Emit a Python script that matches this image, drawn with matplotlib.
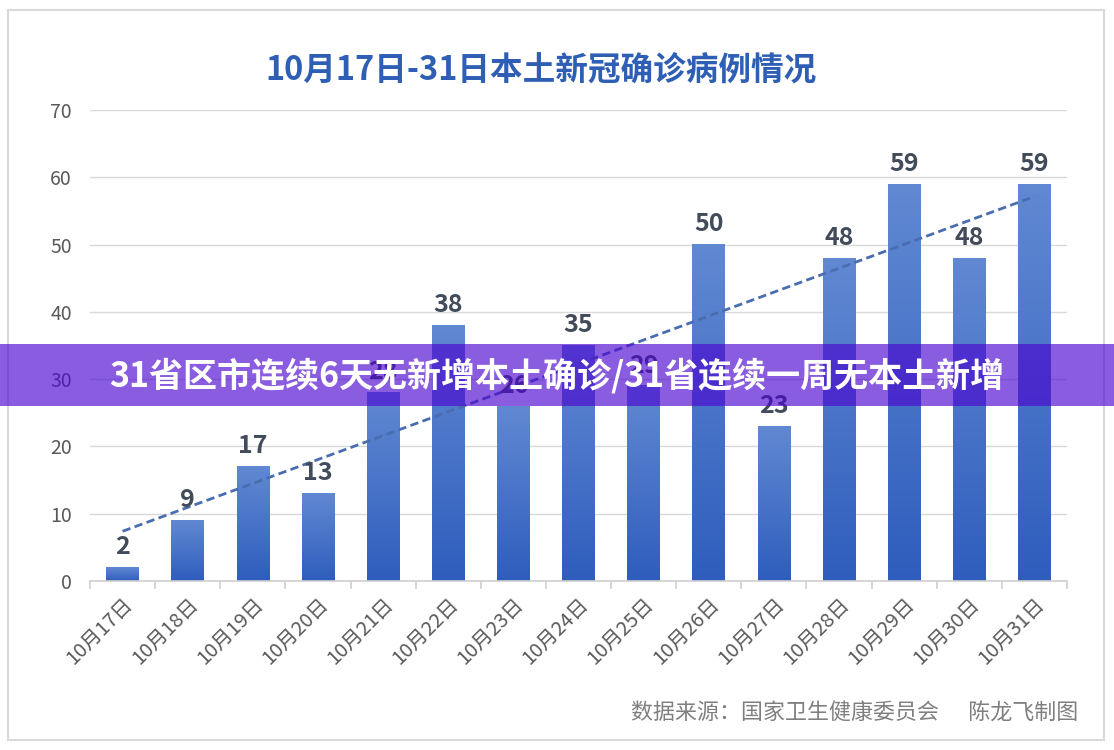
import numpy as np
import matplotlib
matplotlib.use("Agg")
import matplotlib.pyplot as plt
from matplotlib.colors import LinearSegmentedColormap
from matplotlib.patches import Rectangle

plt.rcParams['font.family'] = ['Noto Sans CJK SC', 'DejaVu Sans']

# 数据
riqi = ["10月17日", "10月18日", "10月19日", "10月20日", "10月21日", "10月22日",
        "10月23日", "10月24日", "10月25日", "10月26日", "10月27日", "10月28日",
        "10月29日", "10月30日", "10月31日"]
bingli = [2, 9, 17, 13, 28, 38, 26, 35, 29, 50, 23, 48, 59, 48, 59]

baslik = "10月17日-31日本土新冠确诊病例情况"
bant_yazi = "31省区市连续6天无新增本土确诊/31省连续一周无本土新增"
kaynak = "数据来源：国家卫生健康委员会      陈龙飞制图"

W, H = 1114, 750
fig = plt.figure(figsize=(W / 100, H / 100), dpi=100)
fig.patch.set_facecolor("white")

# 外框
fig.add_artist(Rectangle((8 / W, 1 - 740 / H), 1096 / W, 730 / H,
                         transform=fig.transFigure, facecolor="white",
                         edgecolor="#d9d9d9", lw=1.5, zorder=-1))

ax = fig.add_axes([90 / W, 1 - 581 / H, 977 / W, 471 / H])
ax.set_facecolor("none")

x = np.arange(len(bingli))
bars = ax.bar(x, bingli, width=0.5, color="none", zorder=2)

cmap = LinearSegmentedColormap.from_list("mavi", ["#2f5dbd", "#6189d2"])
grad = np.linspace(1, 0, 256).reshape(-1, 1)
for b in bars:
    ax.imshow(grad, extent=[b.get_x(), b.get_x() + b.get_width(), 0, b.get_height()],
              cmap=cmap, vmin=0, vmax=1, aspect="auto", zorder=2)

for xi, v in zip(x, bingli):
    ax.annotate(str(v), (xi, v), xytext=(0, 6), textcoords="offset points",
                ha="center", va="bottom", fontsize=18, fontweight="bold",
                color="#414b5a", zorder=4)

# 趋势线
k, c = np.polyfit(x, bingli, 1)
ax.plot(x, k * x + c, ls=(0, (3, 1.6)), lw=2, color="#4a6db0", zorder=3)

ax.set_xlim(-0.5, len(bingli) - 0.5)
ax.set_ylim(0, 70)
ax.set_yticks(range(0, 71, 10))
ax.grid(axis="y", color="#d9d9d9", lw=1, zorder=0)
ax.set_axisbelow(True)

for s in ["top", "right", "left"]:
    ax.spines[s].set_visible(False)
ax.spines["bottom"].set_color("#d0d0d0")
ax.spines["bottom"].set_linewidth(1.2)

ax.set_xticks(x)
ax.set_xticklabels(riqi, rotation=45, ha="right", rotation_mode="anchor",
                   fontsize=14.5, color="#595959")
ax.set_xticks(np.arange(-0.5, len(bingli), 1), minor=True)
ax.tick_params(axis="x", which="major", length=0, pad=9)
ax.tick_params(axis="x", which="minor", length=6, color="#d0d0d0", width=1.2)
ax.tick_params(axis="y", length=0, labelsize=14, labelcolor="#595959", pad=13)

fig.text(541 / W, 1 - 70 / H, baslik, ha="center", va="center",
         fontsize=23.5, fontweight="bold", color="#2f5fb5")

fig.text(1078 / W, 1 - 714 / H, kaynak, ha="right", va="center",
         fontsize=15.8, color="#7f7f7f")

# 紫色横幅
fig.add_artist(Rectangle((0, 1 - 406 / H), 1, 62 / H, transform=fig.transFigure,
                         facecolor="#4b05d0", alpha=0.65, edgecolor="none", zorder=10))
fig.text(557 / W, 1 - 376 / H, bant_yazi, ha="center", va="center",
         fontsize=24.5, fontweight="heavy", color="white", zorder=11)

plt.savefig("out.png", dpi=100)
